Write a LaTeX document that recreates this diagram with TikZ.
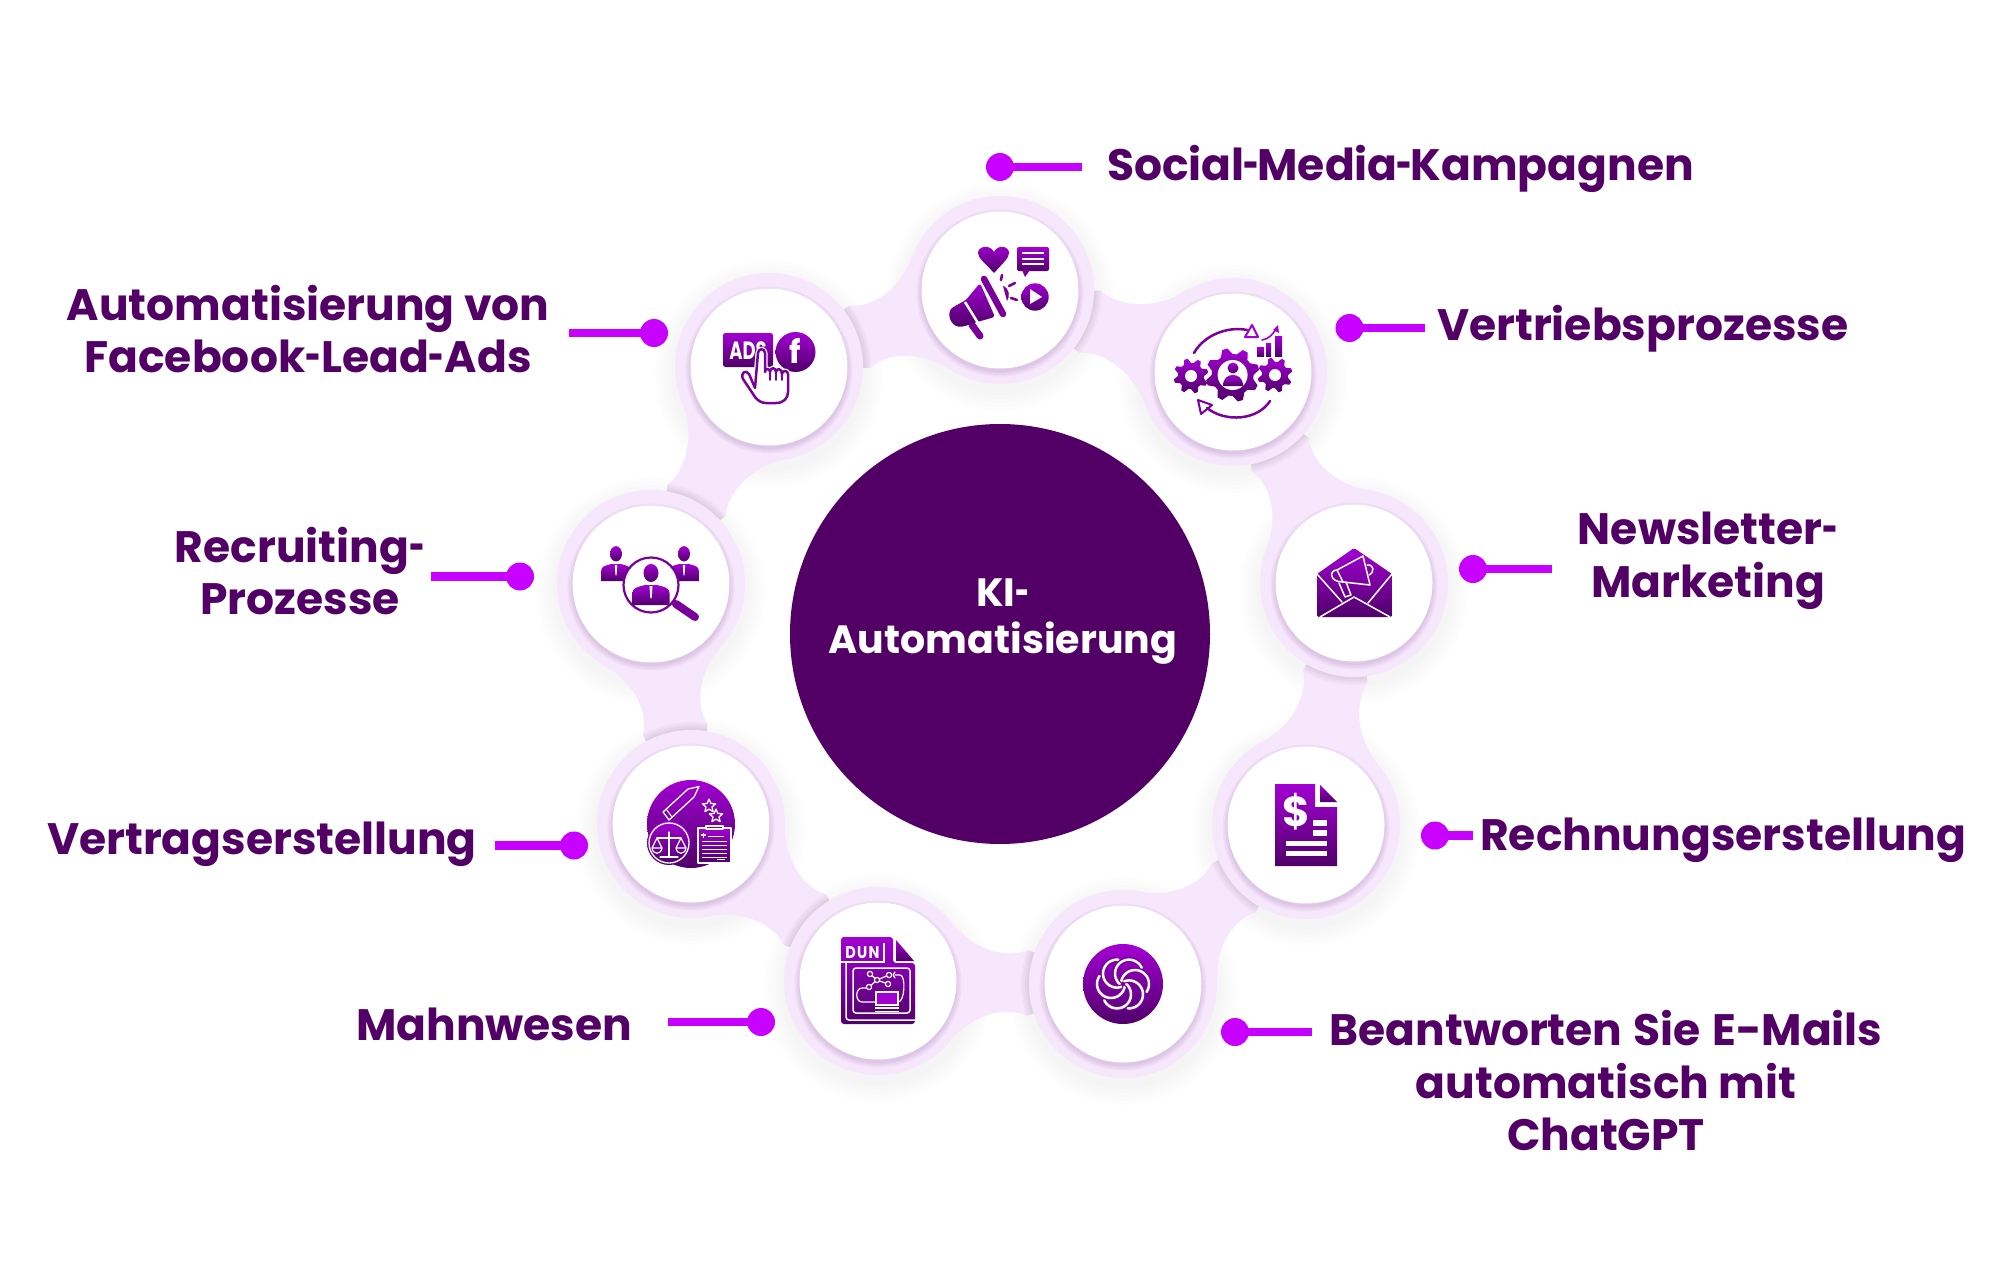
\documentclass[tikz,border=0pt]{standalone}
\usepackage{graphicx}
\usepackage{fontspec}
\setmainfont{Poppins}
\newfontfamily\lblfont{Poppins}
\newcommand{\hy}{\scalebox{.62}[1]{-}}
\usetikzlibrary{calc}
\definecolor{txt}{HTML}{520066}
\definecolor{dotc}{HTML}{C800FF}
\definecolor{halo}{HTML}{F6E7FC}
\definecolor{icT}{HTML}{A200D2}
\definecolor{icM}{HTML}{7A009C}
\definecolor{icB}{HTML}{50006A}
\tikzset{
  x=1pt,y=-1pt,
  lbl/.style={inner sep=0pt,text=txt,align=center,font=\fontsize{44}{52.5}\selectfont\lblfont\bfseries},
  ctr/.style={inner sep=0pt,text=white,align=center,font=\fontsize{39.5}{47}\selectfont\lblfont\bfseries},
  dotn/.style={circle,fill=dotc,minimum size=28pt,inner sep=0pt},
  lead/.style={draw=dotc,line width=8.5pt},
  disc/.style={circle,fill=white,minimum size=157pt,inner sep=0pt},
  ic/.style={top color=icT,bottom color=icB,draw=none},
  wl/.style={draw=white,line width=1.5pt,line join=round,line cap=round},
  wf/.style={fill=white,draw=none},
  pl/.style={draw=icM,line width=2.5pt,line cap=round,line join=round},
  itx/.style={inner sep=0pt,text=white,font=\bfseries},
}
\newcommand{\bandpath}[2]{
  ($(#1)!101pt!19:(#2)$) .. controls ($(#1)!117.5pt!11.8:(#2)$) and ($(#2)!99.6pt!-17.5:(#1)$) .. ($(#2)!94pt!-42:(#1)$)
  -- ($(#2)!94pt!42:(#1)$) .. controls ($(#2)!99.6pt!17.5:(#1)$) and ($(#1)!117.5pt!-11.8:(#2)$) .. ($(#1)!101pt!-19:(#2)$) -- (#1) -- cycle}
\newcommand{\geardraw}[5]{
  \path[ic] plot[samples=4*#5,domain=0:4*#5-1] ({#1+(mod(round(\x),4)<2 ? #3 : #4)*cos(round(\x)*90/#5)},{#2+(mod(round(\x),4)<2 ? #3 : #4)*sin(round(\x)*90/#5)}) -- cycle;}
\newcommand{\starout}[3]{
  \draw[wl,line width=1.3pt] plot[samples at={0,...,9}] ({#1+(mod(\x,2)<0.5 ? #3 : #3*0.45)*sin(\x*36)},{#2-(mod(\x,2)<0.5 ? #3 : #3*0.45)*cos(\x*36)}) -- cycle;}
\newcommand{\personic}[4]{
  \begin{scope}[shift={(#1,#2)},xscale=#3,yscale=#4]
    \path[ic] (0,-12) ellipse[x radius=7.5,y radius=9];
    \path[ic] (-18.5,20) -- (-18.5,8) .. controls (-18.5,3) and (-14,2) .. (-6,0) -- (6,0) .. controls (14,2) and (18.5,3) .. (18.5,8) -- (18.5,20) -- cycle;
    \fill[white] (-1.5,1) -- (1.5,1) -- (0.8,12) -- (0,14) -- (-0.8,12) -- cycle;
  \end{scope}}
\newcommand{\handpath}{(755,388) -- (749,374) .. controls (746,369) and (740,373) .. (743,379) -- (755,397) .. controls (758,401) and (762,403) .. (766,403) -- (776,403) .. controls (784,403) and (788,398) .. (788,392) -- (788,374) .. controls (788,370) and (782,370) .. (782,374) .. controls (782,368) and (776,368) .. (776,372) .. controls (776,367) and (770,367) .. (770,372) .. controls (770,368) and (765,368) .. (765,372) -- (765,353) .. controls (765,348) and (758,348) .. (758,353) -- cycle}
\begin{document}
\begin{tikzpicture}
\useasboundingbox (0,0) rectangle (2000,1271);
\fill[white] (0,0) rectangle (2000,1271);
\coordinate (n1) at (1000,290);
\coordinate (n2) at (1233,372);
\coordinate (n3) at (1354,583);
\coordinate (n4) at (1306,825);
\coordinate (n5) at (1123,984);
\coordinate (n6) at (878,981);
\coordinate (n7) at (691,824);
\coordinate (n8) at (651,584);
\coordinate (n9) at (769,367);
\foreach \k in {4,8,12,16,20}{
  \foreach \n in {n1,n2,n3,n4,n5,n6,n7,n8,n9}
    \fill[black,opacity=0.007] ($(\n)+(0,7)$) circle[radius=94+\k];
}
\foreach \a/\b in {n1/n2,n2/n3,n3/n4,n4/n5,n5/n6,n6/n7,n7/n8,n8/n9,n9/n1}{
  \fill[halo] \bandpath{\a}{\b};
}
\foreach \a/\b in {n1/n2,n2/n3,n3/n4,n4/n5,n5/n6,n6/n7,n7/n8,n8/n9,n9/n1}{
  \begin{scope}
    \clip \bandpath{\a}{\b};
    \foreach \r in {96,98,100,102}
      \fill[black,opacity=0.022] (\a) circle[radius=\r];
  \end{scope}
}
\foreach \n in {n1,n2,n3,n4,n5,n6,n7,n8,n9}{
  \fill[halo] (\n) circle[radius=94];
  \foreach \k in {1,2.5,4,5.5}
    \fill[icB,opacity=0.035] ($(\n)+(0,3)$) circle[radius=78+\k];
}
\node[disc] (w1) at (n1) {};
\node[disc] (w2) at (n2) {};
\node[disc] (w3) at (n3) {};
\node[disc] (w4) at (n4) {};
\node[disc] (w5) at (n5) {};
\node[disc] (w6) at (n6) {};
\node[disc] (w7) at (n7) {};
\node[disc] (w8) at (n8) {};
\node[disc] (w9) at (n9) {};
\node[circle,fill=txt,minimum size=420pt,inner sep=0pt] (hub) at (1000,634) {};
\node[ctr] (hubt) at (1003,622) {KI\hy\\Automatisierung};
\node[dotn] (d1) at (1000,167) {}; \coordinate (e1) at (1082,167);
\node[dotn] (d2) at (1349.5,328) {}; \coordinate (e2) at (1425,328);
\node[dotn] (d3) at (1473,569) {}; \coordinate (e3) at (1552,569);
\node[dotn] (d4) at (1435,835.5) {}; \coordinate (e4) at (1473,835.5);
\node[dotn] (d5) at (1235,1032) {}; \coordinate (e5) at (1312,1032);
\node[dotn] (d6) at (761,1022) {}; \coordinate (e6) at (668,1022);
\node[dotn] (d7) at (574,845.5) {}; \coordinate (e7) at (495,845.5);
\node[dotn] (d8) at (520,576.5) {}; \coordinate (e8) at (431,576.5);
\node[dotn] (d9) at (654,333) {}; \coordinate (e9) at (569,333);
\foreach \i in {1,...,9} \draw[lead] (d\i.center) -- (e\i);
\node[lbl,anchor=base west] (t1) at (1107,180) {Social\hspace{-1.5pt}\hy\hspace{-1.5pt}Media\hspace{-1.5pt}\hy\hspace{-1.5pt}Kampagnen};
\node[lbl,anchor=base west] (t2) at (1437,340) {Vertriebsprozesse};
\node[lbl] (t3) at (1708,561) {Newsletter\hy\\Marketing};
\node[lbl,anchor=base west] (t4) at (1480,850) {Rechnungserstellung};
\node[lbl] (t5) at (1606,1081) {Beantworten\hspace{2pt} Sie\hspace{2pt} E-Mails\\automatisch mit\\ChatGPT};
\node[lbl,anchor=base west] (t6) at (356,1040) {Mahnwesen};
\node[lbl,anchor=base west] (t7) at (47,854) {Vertragserstellung};
\node[lbl] (t8) at (300,571) {Recruiting\hy\\Prozesse};
\node[lbl] (t9) at (308,329) {Automatisierung von\\Facebook\hy Lead\hy Ads};
%%% icon 1
\path[ic] (994,273) .. controls (985,263) and (978,258) .. (978,253) .. controls (978,246) and (990,244) .. (994,252) .. controls (998,244) and (1009,246) .. (1009,253) .. controls (1009,258) and (1003,263) .. (994,273) -- cycle;
\path[ic,rounded corners=2pt] (1017,247) rectangle (1049,271);
\fill[icM] (1022,270) -- (1025,277) -- (1030,270) -- cycle;
\foreach \y in {253,259,264} \draw[white,line width=2.6pt] (1022,\y) -- (1044,\y);
\draw[icM,line width=7pt,line cap=round] (972,325) -- (980,336);
\path[ic,rounded corners=3pt] (980,283) -- (995,317) -- (977,322) -- (962,327) .. controls (950,326) and (946,312) .. (955,306) -- (966,300) -- cycle;
\draw[white,line width=2.5pt] (965,302) -- (978,323);
\draw[icM,line width=6.5pt,line cap=round] (984,279) -- (1003,314);
\fill[icM] (1003,286) .. controls (1010,288) and (1010,298) .. (1007,301) -- cycle;
\draw[icM,line width=2.6pt,line cap=round] (1002,275) -- (1001,280);
\draw[icM,line width=2.6pt,line cap=round] (1009,286) -- (1015,283);
\draw[icM,line width=2.6pt,line cap=round] (1011,298) -- (1017,300);
\path[ic] (1035,297) circle[radius=13.7];
\fill[white] (1030,289) -- (1030,304) -- (1042,297) -- cycle;
%%% icon 9
\path[ic,rounded corners=2.5pt] (723,333) rectangle (773,367);
\node[itx,font=\fontsize{25}{25}\selectfont\bfseries] (adst) at (748,351) {\scalebox{.72}[1]{ADS}};
\path[ic] (795.5,352) circle[radius=20];
\node[itx,font=\fontsize{32}{32}\selectfont\bfseries] (fbt) at (795,351) {f};
\draw[white,line width=5pt,line join=round] \handpath;
\draw[pl,fill=white] \handpath;
\draw[pl,line width=1.6pt] (770,372) -- (770,380) (776,372) -- (776,380) (782,374) -- (782,380);
%%% icon 2
\geardraw{1232.6}{375}{21}{27}{8}
\fill[white] (1232.6,375) circle[radius=15];
\path[ic] (1233,368) circle[radius=5.5];
\path[ic] (1223,386) .. controls (1223,378) and (1228,375) .. (1233,375) .. controls (1238,375) and (1243,378) .. (1243,386) -- cycle;
\geardraw{1191}{376}{13}{17.5}{8}
\fill[white] (1191,376) circle[radius=6];
\geardraw{1275}{375}{13}{17.5}{8}
\fill[white] (1275,375) circle[radius=6];
\draw[pl] (1194,353) .. controls (1204,335) and (1228,326) .. (1247,330);
\draw[pl,draw=icT,line width=2pt] (1252,325) -- (1258,337) -- (1245,337) -- cycle;
\draw[pl] (1270,401) .. controls (1258,420) and (1226,423) .. (1207,408);
\draw[pl,draw=icM,line width=2pt] (1198,400) -- (1212,405) -- (1201,414) -- cycle;
\path[ic] (1257,347) rectangle (1264,356);
\path[ic] (1266,343) rectangle (1271,356);
\path[ic] (1275,336) rectangle (1282,356);
\draw[pl,draw=icT,line width=1.6pt] (1262,340) .. controls (1269,339) and (1273,334) .. (1276,329);
\fill[icT] (1278,325) -- (1279,333) -- (1273,330) -- cycle;
%%% icon 3
\path[ic,rounded corners=1.5pt] (1354,548) -- (1392,574) -- (1392,617) -- (1317,617) -- (1317,574) -- cycle;
\draw[wl] (1317,574) -- (1342,602);
\draw[wl] (1392,574) -- (1368,603);
\draw[wl] (1320,617) -- (1354,597) -- (1390,617);
\draw[wl] (1337,570) -- (1363,556) -- (1370,585) -- (1343,582) -- cycle;
\draw[wl] (1337,570) .. controls (1329,570) and (1329,582) .. (1343,582);
\draw[wl] (1339,583) -- (1345,597) -- (1351,595) -- (1346,582);
\draw[wl] (1367,565) .. controls (1374,564) and (1375,572) .. (1369,575);
%%% icon 4
\path[ic] (1275,784) -- (1315,784) -- (1315,807) -- (1337,807) -- (1337,866) -- (1275,866) -- cycle;
\path[ic] (1320,785) -- (1337,802) -- (1320,802) -- cycle;
\node[itx,font=\fontsize{42}{42}\selectfont\bfseries] (dollar) at (1296,812) {\$};
\fill[white] (1313,820) rectangle (1327,826);
\fill[white] (1313,830) rectangle (1327,836);
\fill[white] (1286,841) rectangle (1327,846);
\fill[white] (1286,851) rectangle (1327,856);
%%% icon 5
\path[ic] (1123,984) circle[radius=40];
\foreach \a in {0,60,...,300}{
  \begin{scope}[shift={(1123,984)},rotate=\a]
    \draw[icM,line width=5pt] plot[smooth,samples=20,domain=-170:30] ({12+14*cos(\x)},{14*sin(\x)});
    \draw[white,line width=2.5pt,line cap=round] plot[smooth,samples=20,domain=-170:35] ({12+14*cos(\x)},{14*sin(\x)});
  \end{scope}
}
%%% icon 6
\path[ic,rounded corners=3pt] (846,937) -- (893,937) -- (893,963) -- (915,963) -- (915,1024) -- (841,1024) -- (841,937) -- cycle;
\path[ic] (896,940) -- (914,961) -- (896,961) -- cycle;
\draw[white,line width=1.4pt] (884,943) -- (884,962) -- (841,962);
\node[itx,font=\fontsize{17}{17}\selectfont\bfseries] (dun) at (862.5,952.5) {\scalebox{.85}[1]{D\hspace{1.5pt}U\hspace{1.5pt}N}};
\draw[wl,rounded corners=3pt] (846,962) -- (846,1020) -- (915,1020);
\draw[wl,rounded corners=3pt] (853,968) rectangle (910,1013);
\draw[wl,line width=1.2pt] (870,974) -- (877,980) -- (889,975) (877,980) -- (888,984) (877,980) -- (869,987);
\foreach \p in {(870,974),(877,980),(889,975),(888,984),(869,987)}
  \draw[wl,line width=1.2pt,fill=icM] \p circle[radius=2.6];
\draw[wl,line width=1.2pt] (895,975) -- (900,975) .. controls (906,975) and (905,1002) .. (898,1002);
\draw[wl,line width=1.2pt] (895,972) -- (893,975) -- (895,978);
\draw[wl,line width=1.2pt] (876,1002) -- (862,1002) .. controls (855,1002) and (855,988) .. (862,988) -- (866,988);
\fill[white] (875,991) rectangle (899,1006);
\fill[icT] (877,993) rectangle (897,1004);
\fill[white] (875,1007) rectangle (899,1008.6);
\fill[white] (875,1010.5) rectangle (899,1012);
%%% icon 7
\path[ic] (691,824) circle[radius=44];
\draw[wl,line width=1.3pt] (669,820) -- (694,797) -- (699,786.5) -- (688,789) -- (663,812) -- cycle;
\draw[wl,line width=1pt] (666,809) -- (672,817);
\starout{709}{806}{7}
\starout{716}{816}{7}
\path[ic] (669,843) circle[radius=22];
\draw[wl,line width=1.3pt] (669,843) circle[radius=20];
\draw[wl,line width=1.3pt] (669,832) -- (669,856) (660,857) -- (678,857) (657,838) -- (681,838);
\draw[wl,line width=1.2pt] (657,838) -- (652,848) -- (662,848) -- cycle (652,848) .. controls (653,855) and (661,855) .. (662,848);
\draw[wl,line width=1.2pt] (681,838) -- (676,848) -- (686,848) -- cycle (676,848) .. controls (677,855) and (685,855) .. (686,848);
\path[ic] (698,828) rectangle (731,863);
\draw[wl,line width=1.3pt] (698,828) rectangle (731,863);
\draw[wl,fill=icM,line width=1.2pt] (706,829) -- (706,826) -- (723,826) -- (723,829) -- cycle;
\foreach \y in {841,845,849,853,857} \draw[white,line width=1pt] (702,\y) -- (727,\y);
\draw[white,line width=1pt] (708,836) -- (724,836);
\draw[white,line width=1pt] (717,859.5) -- (725,859.5);
\draw[white,line width=1.4pt] (701,835) -- (706,835) (703.5,832.5) -- (703.5,837.5);
%%% icon 8
\personic{616}{564}{0.8}{0.85}
\personic{684}{564}{0.8}{0.85}
\draw[icM,line width=8pt,line cap=round] (676,604) -- (695,617);
\draw[icM,fill=white,line width=2.2pt] (651,585) circle[radius=27.5];
\personic{651}{585}{1}{1}
\end{tikzpicture}
\end{document}
